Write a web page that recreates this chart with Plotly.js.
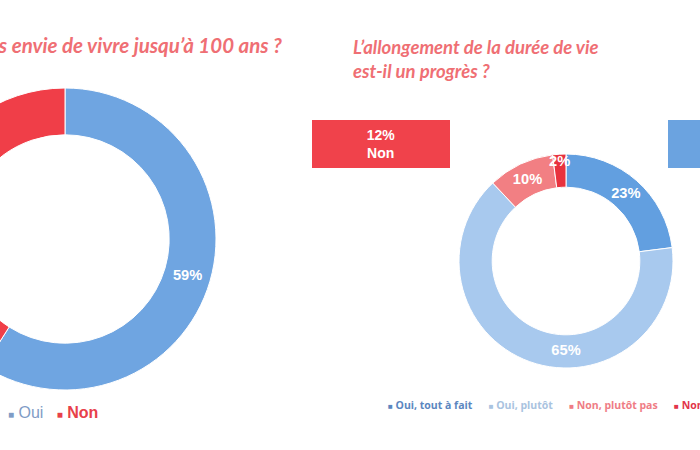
<!DOCTYPE html>
<html><head><meta charset="utf-8">
<script src="https://cdn.plot.ly/plotly-3.0.1.min.js"></script>
<style>html,body{margin:0;padding:0;overflow:hidden;width:700px;height:450px;background:#fff}
#chart{position:absolute;left:-300px;top:0;width:1100px;height:450px}</style>
</head><body><div id="chart"></div>
<script>
// Left chart: "Avez-vous envie de vivre jusqu'à 100 ans ?"
var leftTitle = "Avez-vous envie de vivre jusqu’à 100 ans ?";
var leftLabels = ["Oui", "Non"];
var leftValues = [59, 41];
var leftColors = ["#6fa5e1", "#f03e48"];
var leftLegendColors = ["#7f9cc6", "#e8404a"];

// Right chart: "L'allongement de la durée de vie est-il un progrès ?"
var rightTitle = "L’allongement de la durée de vie<br>est-il un progrès ?";
var rightLabels = ["Oui, tout à fait", "Oui, plutôt", "Non, plutôt pas", "Non, pas du tout"];
var rightValues = [23, 65, 10, 2];
var rightColors = ["#629fe0", "#a8c9ee", "#f27f83", "#e8323e"];
var rightLegendColors = ["#5b86c0", "#a9c3e0", "#ef7c85", "#e2354a"];

// Summary boxes
var boxTexts = ["12%<br>Non", "88%<br>Oui"];
var boxColors = ["#f0424b", "#6ba3e0"];

var W = 1100, H = 450;
function px(x){ return x / W; }
function py(yTop){ return (H - yTop) / H; }

var traces = [
  {
    type: "pie", labels: leftLabels, values: leftValues, sort: false,
    direction: "clockwise", rotation: 0, hole: 0.69,
    marker: {colors: leftColors, line: {color: "#ffffff", width: 1}},
    texttemplate: "<b>%{percent}</b>", textposition: "inside", insidetextorientation: "horizontal",
    textfont: {color: "#ffffff", size: 16, family: "Liberation Sans, Arial, sans-serif"},
    domain: {x: [px(214), px(516)], y: [py(390), py(88)]},
    showlegend: false, hoverinfo: "label+percent"
  },
  {
    type: "pie", labels: rightLabels, values: rightValues, sort: false,
    direction: "clockwise", rotation: 0, hole: 0.69,
    marker: {colors: rightColors, line: {color: "#ffffff", width: 1}},
    texttemplate: "<b>%{percent}</b>", textposition: "inside", insidetextorientation: "horizontal",
    textfont: {color: "#ffffff", size: 16, family: "Liberation Sans, Arial, sans-serif"},
    domain: {x: [px(759), px(973)], y: [py(368), py(154)]},
    showlegend: false, hoverinfo: "label+percent"
  }
];

function legendText(labels, colors, symSize, bold, gap){
  return labels.map(function(l, i){
    var t = bold[i] ? "<b>" + l + "</b>" : l;
    return "<span style='color:" + colors[i] + ";font-size:" + symSize + "px'>■</span>&nbsp;" +
           "<span style='color:" + colors[i] + "'>" + t + "</span>";
  }).join(gap);
}

var annotations = [
  {text: "<b><i>" + leftTitle + "</i></b>", xref: "paper", yref: "paper", x: px(584), y: py(45),
   xanchor: "right", yanchor: "middle", showarrow: false,
   font: {family: "Lato, Open Sans, sans-serif", size: 20.5, color: "#ef6f74"}},
  {text: "<b><i>" + rightTitle + "</i></b>", xref: "paper", yref: "paper", x: px(651), y: py(59),
   xanchor: "left", yanchor: "middle", align: "left", showarrow: false,
   font: {family: "Lato, Open Sans, sans-serif", size: 18.5, color: "#ef6f74"}},
  {text: legendText(leftLabels, leftLegendColors, 10, [false, true], "&nbsp;&nbsp;&nbsp;"),
   xref: "paper", yref: "paper", x: px(306), y: py(412), xanchor: "left", yanchor: "middle",
   showarrow: false, font: {family: "Liberation Sans, Arial, sans-serif", size: 16, color: "#7f9cc6"}},
  {text: legendText(rightLabels, rightLegendColors, 8, [true, true, true, true], "&nbsp;&nbsp;&nbsp;&nbsp;&nbsp;&nbsp;"),
   xref: "paper", yref: "paper", x: px(686), y: py(405), xanchor: "left", yanchor: "middle",
   showarrow: false, font: {family: "Open Sans, sans-serif", size: 10.5, color: "#5b86c0"}}
];

var boxLefts = [612, 968];
boxTexts.forEach(function(t, i){
  annotations.push({
    text: "<b>" + t + "</b>", xref: "paper", yref: "paper",
    x: px(boxLefts[i] + 69), y: py(144), xanchor: "center", yanchor: "middle",
    width: 138, height: 48, bgcolor: boxColors[i], borderpad: 0, borderwidth: 0,
    showarrow: false, font: {family: "Liberation Sans, Arial, sans-serif", size: 14, color: "#ffffff"}
  });
});

var layout = {
  width: W, height: H, margin: {l: 0, r: 0, t: 0, b: 0},
  paper_bgcolor: "#ffffff", plot_bgcolor: "#ffffff",
  uniformtext: {minsize: 14, mode: "show"},
  annotations: annotations
};
Plotly.newPlot("chart", traces, layout, {displayModeBar: false, staticPlot: true});
</script></body></html>
